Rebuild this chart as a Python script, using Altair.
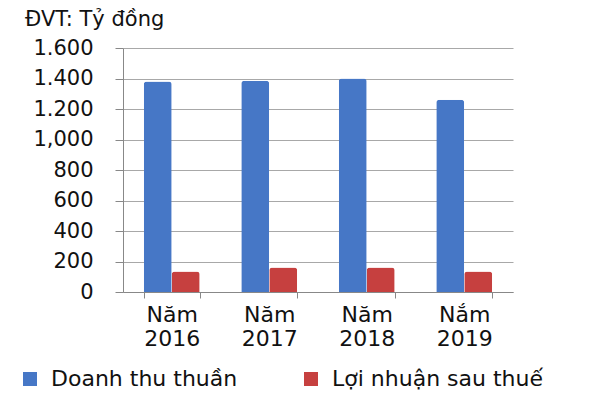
import altair as alt
import pandas as pd

years = ["Năm 2016", "Năm 2017", "Năm 2018", "Nắm 2019"]
revenue = [1380, 1385, 1400, 1260]
profit = [135, 160, 160, 135]
series = ["Doanh thu thuần", "Lợi nhuận sau thuế"]
colors = ["#4677C6", "#C6403F"]
y_ticks = [0, 200, 400, 600, 800, 1000, 1200, 1400, 1600]
y_labels = ["0", "200", "400", "600", "800", "1,000", "1.200", "1.400", "1.600"]

rows = []
for i, yr in enumerate(years):
    rows.append({"year": yr, "series": series[0], "value": revenue[i]})
    rows.append({"year": yr, "series": series[1], "value": profit[i]})
df = pd.DataFrame(rows)

label_expr = "''"
for t, l in zip(y_ticks, y_labels):
    label_expr = f"datum.value == {t} ? '{l}' : ({label_expr})"

FONT = "DejaVu Sans"

chart = alt.Chart(df).mark_bar(cornerRadiusEnd=3).encode(
    x=alt.X("year:N", sort=years, title=None,
            scale=alt.Scale(paddingInner=0.426, paddingOuter=0.213),
            axis=alt.Axis(labelExpr="split(datum.label, ' ')", labelAngle=0,
                          labelFontSize=22, labelFont=FONT, labelColor="#111",
                          labelLineHeight=24, labelPadding=6, tickBand="extent",
                          tickSize=6, tickColor="#888", domainColor="#888",
                          labelBaseline="top")),
    xOffset=alt.XOffset("series:N", sort=series),
    y=alt.Y("value:Q", title=None,
            scale=alt.Scale(domain=[0, 1600], nice=False),
            axis=alt.Axis(values=y_ticks, labelExpr=label_expr, labelFontSize=21,
                          labelFont=FONT, labelColor="#111", tickSize=8,
                          labelPadding=22, tickColor="#888", domainColor="#888",
                          gridColor="#A8A8A8", grid=True)),
    color=alt.Color("series:N", sort=series,
                    scale=alt.Scale(domain=series, range=colors),
                    legend=alt.Legend(title=None, orient="none", direction="horizontal",
                                      legendX=-104, legendY=320,
                                      symbolType="square", symbolSize=196,
                                      symbolStrokeWidth=0, labelFontSize=22,
                                      labelFont=FONT, labelColor="#111",
                                      labelOffset=10, columnPadding=62,
                                      labelLimit=400)),
).properties(
    width=390, height=244,
    title=alt.TitleParams("ĐVT: Tỷ đồng", anchor="start", frame="group", dx=-98,
                          offset=7, fontSize=21, fontWeight="normal", font=FONT,
                          color="#111"),
    autosize=alt.AutoSizeParams(type="none"),
    padding={"left": 115, "top": 40, "right": 79, "bottom": 100},
).configure_view(strokeWidth=0)

chart.save("out.html", embed_options={"renderer": "svg", "actions": False})
